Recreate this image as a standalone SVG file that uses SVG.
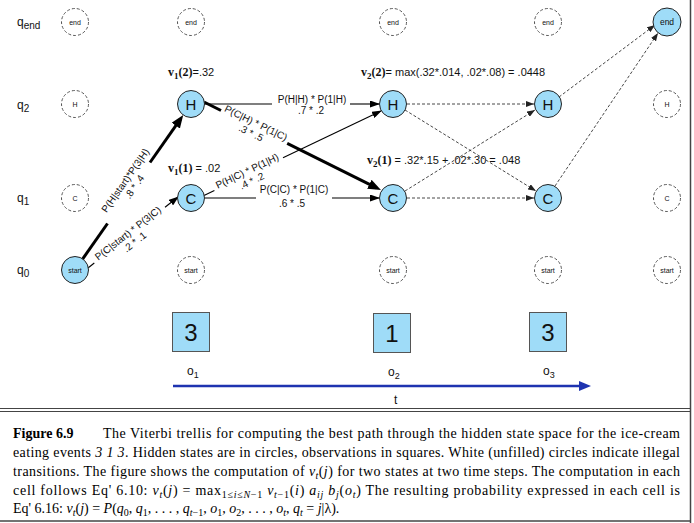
<svg xmlns="http://www.w3.org/2000/svg" width="694" height="523" viewBox="0 0 694 523">
<style>
.s{font-family:"Liberation Sans",Arial,sans-serif;fill:#111}
.lbl{font-size:10px;text-anchor:middle}
.dc{fill:#fff;stroke:#555;stroke-width:1;stroke-dasharray:3 2}
.fc{fill:#9fdcf8;stroke:#222;stroke-width:1}
.ct{text-anchor:middle;dominant-baseline:central}
.tiny{font-size:7px}
.big{font-size:15px}
.thick{stroke:#000;stroke-width:3;fill:none}
.thin{stroke:#000;stroke-width:1.1;fill:none}
.dash{stroke:#333;stroke-width:0.9;stroke-dasharray:3 2;fill:none}
.vb{font-family:"Liberation Serif","Times New Roman",serif;font-weight:bold}
.cap{font-family:"Liberation Serif","Times New Roman",serif;font-size:14px;fill:#000}
.it{font-style:italic}
.row{font-size:12px}
.obs{fill:#9fdcf8;stroke:#555;stroke-width:1}
</style>
<defs>
<marker id="aT" markerUnits="userSpaceOnUse" markerWidth="13" markerHeight="10" refX="8" refY="5" orient="auto"><path d="M0,0 L13,5 L0,10 z" fill="#000"/></marker>
<marker id="aN" markerUnits="userSpaceOnUse" markerWidth="10" markerHeight="7" refX="9" refY="3.5" orient="auto"><path d="M0,0 L10,3.5 L0,7 z" fill="#000"/></marker>
<marker id="aD" markerUnits="userSpaceOnUse" markerWidth="8" markerHeight="6" refX="8" refY="3" orient="auto"><path d="M0,0 L8,3 L0,6 z" fill="#222"/></marker>
<marker id="aB" markerUnits="userSpaceOnUse" markerWidth="12" markerHeight="10" refX="6" refY="5" orient="auto"><path d="M0,0 L12,5 L0,10 z" fill="#1e33b0"/></marker>
</defs>
<rect width="694" height="523" fill="#fff"/>

<!-- frame -->
<g id="frame" stroke="#444" fill="none">
<line x1="690.5" y1="0" x2="690.5" y2="523" stroke-width="1.5"/>
<line x1="0" y1="408.5" x2="691" y2="408.5" stroke-width="1.2"/>
<line x1="0" y1="411.5" x2="691" y2="411.5" stroke-width="1.2"/>
<line x1="0" y1="521" x2="691" y2="521" stroke-width="1.5"/>
</g>

<!-- row labels -->
<g id="rowlabels" class="s row">
<text x="17" y="26">q<tspan font-size="10" dy="3">end</tspan></text>
<text x="17" y="109">q<tspan font-size="10" dy="3">2</tspan></text>
<text x="17" y="202">q<tspan font-size="10" dy="3">1</tspan></text>
<text x="17" y="274">q<tspan font-size="10" dy="3">0</tspan></text>
</g>

<!-- connectors -->
<g id="connectors">
<!-- start -> H (thick) -->
<line class="thick" x1="82.4" y1="259.3" x2="107.5" y2="223.5"/>
<line class="thick" x1="150" y1="162.5" x2="180.4" y2="119.1" marker-end="url(#aT)"/>
<!-- start -> C -->
<line class="thin" x1="88" y1="268" x2="94.3" y2="263"/>
<line class="thin" x1="165" y1="207.3" x2="178" y2="197" marker-end="url(#aN)"/>
<!-- H -> H -->
<line class="thin" x1="204" y1="104" x2="272" y2="104"/>
<line class="thin" x1="350" y1="104" x2="379" y2="104" marker-end="url(#aN)"/>
<!-- H -> C thick -->
<line class="thick" x1="204" y1="102" x2="221" y2="110.5"/>
<line class="thick" x1="287.2" y1="143.4" x2="376.5" y2="187.8" marker-end="url(#aT)"/>
<!-- C -> H -->
<line class="thin" x1="204" y1="195.5" x2="214.4" y2="190.5"/>
<line class="thin" x1="283" y1="157.8" x2="381" y2="111" marker-end="url(#aN)"/>
<!-- C -> C -->
<line class="thin" x1="205" y1="198" x2="256" y2="198"/>
<line class="thin" x1="332" y1="198" x2="379" y2="198" marker-end="url(#aN)"/>
<!-- dashed -->
<line class="dash" x1="407" y1="104" x2="534" y2="104" marker-end="url(#aD)"/>
<line class="dash" x1="405" y1="110" x2="536" y2="191" marker-end="url(#aD)"/>
<line class="dash" x1="405" y1="191" x2="535" y2="110" marker-end="url(#aD)"/>
<line class="dash" x1="407" y1="198" x2="534" y2="198" marker-end="url(#aD)"/>
<line class="dash" x1="559" y1="97" x2="655" y2="25" marker-end="url(#aD)"/>
<line class="dash" x1="555" y1="186" x2="658" y2="33" marker-end="url(#aD)"/>
<!-- time axis -->
<line x1="173" y1="386" x2="585" y2="386" stroke="#1e33b0" stroke-width="2.6" marker-end="url(#aB)"/>
</g>

<!-- edge labels -->
<g id="edge-labels" class="s lbl">
<g transform="translate(129,183) rotate(-55)"><text x="0" y="-1">P(H|start)*P(3|H)</text><text x="0" y="10">.8 * .4</text></g>
<g transform="translate(130,236) rotate(-38)"><text x="0" y="0">P(C|start) * P(3|C)</text><text x="0" y="11">.2 * .1</text></g>
<g><text x="312" y="103">P(H|H) * P(1|H)</text><text x="311" y="114">.7 * .2</text></g>
<g transform="translate(254,127) rotate(26)"><text x="0" y="-1">P(C|H) * P(1|C)</text><text x="0" y="10">.3 * .5</text></g>
<g transform="translate(249,175) rotate(-25.5)"><text x="0" y="-1">P(H|C) * P(1|H)</text><text x="0" y="10">.4 * .2</text></g>
<g><text x="294" y="193">P(C|C) * P(1|C)</text><text x="292" y="207">.6 * .5</text></g>
</g>

<!-- value labels -->
<g id="values" class="s" font-size="11">
<text x="168" y="76"><tspan class="vb" font-size="12">v</tspan><tspan class="vb" font-size="9" dy="3">1</tspan><tspan class="vb" font-size="12" dy="-3">(2)</tspan>=.32</text>
<text x="168" y="172"><tspan class="vb" font-size="12">v</tspan><tspan class="vb" font-size="9" dy="3">1</tspan><tspan class="vb" font-size="12" dy="-3">(1)</tspan> = .02</text>
<text x="361" y="76"><tspan class="vb" font-size="12">v</tspan><tspan class="vb" font-size="9" dy="3">2</tspan><tspan class="vb" font-size="12" dy="-3">(2)</tspan>= max(.32*.014, .02*.08) = .0448</text>
<text x="367" y="164"><tspan class="vb" font-size="12">v</tspan><tspan class="vb" font-size="9" dy="3">2</tspan><tspan class="vb" font-size="12" dy="-3">(1)</tspan> = .32*.15 + .02*.30 = .048</text>
</g>

<!-- nodes: end row -->
<g id="end1"><circle class="dc" cx="75" cy="22" r="13.5"/><text class="s ct tiny" x="75" y="22">end</text></g>
<g id="end2"><circle class="dc" cx="191" cy="22" r="13.5"/><text class="s ct tiny" x="191" y="22">end</text></g>
<g id="end3"><circle class="dc" cx="393" cy="22" r="13.5"/><text class="s ct tiny" x="393" y="22">end</text></g>
<g id="end4"><circle class="dc" cx="548" cy="22" r="13.5"/><text class="s ct tiny" x="548" y="22">end</text></g>
<g id="end5"><circle class="fc" cx="667" cy="22" r="14"/><text class="s ct" font-size="8.5" x="667" y="22">end</text></g>
<!-- H row -->
<g id="H0"><circle class="dc" cx="75" cy="104" r="13.5"/><text class="s ct tiny" x="75" y="104">H</text></g>
<g id="H1"><circle class="fc" cx="191" cy="104" r="13.5"/><text class="s ct big" x="191" y="104">H</text></g>
<g id="H2"><circle class="fc" cx="393" cy="104" r="13.5"/><text class="s ct big" x="393" y="104">H</text></g>
<g id="H3"><circle class="fc" cx="548" cy="104" r="13.5"/><text class="s ct big" x="548" y="104">H</text></g>
<g id="H4"><circle class="dc" cx="667" cy="104" r="13.5"/><text class="s ct tiny" x="667" y="104">H</text></g>
<!-- C row -->
<g id="C0"><circle class="dc" cx="75" cy="198" r="13.5"/><text class="s ct tiny" x="75" y="198">C</text></g>
<g id="C1"><circle class="fc" cx="191" cy="198" r="13.5"/><text class="s ct big" x="191" y="198">C</text></g>
<g id="C2"><circle class="fc" cx="393" cy="198" r="13.5"/><text class="s ct big" x="393" y="198">C</text></g>
<g id="C3"><circle class="fc" cx="548" cy="198" r="13.5"/><text class="s ct big" x="548" y="198">C</text></g>
<g id="C4"><circle class="dc" cx="667" cy="198" r="13.5"/><text class="s ct tiny" x="667" y="198">C</text></g>
<!-- start row -->
<g id="start0"><circle class="fc" cx="75" cy="270" r="13.5"/><text class="s ct tiny" x="75" y="270">start</text></g>
<g id="start1"><circle class="dc" cx="191" cy="270" r="13.5"/><text class="s ct tiny" x="191" y="270">start</text></g>
<g id="start2"><circle class="dc" cx="393" cy="270" r="13.5"/><text class="s ct tiny" x="393" y="270">start</text></g>
<g id="start3"><circle class="dc" cx="548" cy="270" r="13.5"/><text class="s ct tiny" x="548" y="270">start</text></g>
<g id="start4"><circle class="dc" cx="667" cy="270" r="13.5"/><text class="s ct tiny" x="667" y="270">start</text></g>

<!-- observations -->
<g id="obs1"><rect class="obs" x="172.5" y="312.5" width="37" height="39"/><text class="s ct" font-size="24" x="191" y="332">3</text><text class="s" font-size="12" x="187" y="375">o<tspan font-size="9" dy="3">1</tspan></text></g>
<g id="obs2"><rect class="obs" x="373.5" y="313.5" width="37" height="39"/><text class="s ct" font-size="24" x="392" y="333">1</text><text class="s" font-size="12" x="388" y="376">o<tspan font-size="9" dy="3">2</tspan></text></g>
<g id="obs3"><rect class="obs" x="529.5" y="312.5" width="37" height="39"/><text class="s ct" font-size="24" x="548" y="332">3</text><text class="s" font-size="12" x="543" y="375">o<tspan font-size="9" dy="3">3</tspan></text></g>
<text class="s" font-size="12" x="394" y="404">t</text>

<!-- caption -->
<g id="caption" class="cap">
<text x="13" y="438" font-weight="bold">Figure 6.9</text>
<text x="103" y="438" textLength="577" lengthAdjust="spacing">The Viterbi trellis for computing the best path through the hidden state space for the ice-cream</text>
<text x="13" y="457" textLength="667" lengthAdjust="spacing">eating events <tspan class="it">3 1 3</tspan>. Hidden states are in circles, observations in squares. White (unfilled) circles indicate illegal</text>
<text x="13" y="476" textLength="667" lengthAdjust="spacing">transitions. The figure shows the computation of <tspan class="it">v</tspan><tspan class="it" font-size="10" dy="3">t</tspan><tspan dy="-3">(</tspan><tspan class="it">j</tspan>) for two states at two time steps. The computation in each</text>
<text x="13" y="495" textLength="667" lengthAdjust="spacing">cell follows Eq' 6.10: <tspan class="it">v</tspan><tspan class="it" font-size="10" dy="3">t</tspan><tspan dy="-3">(</tspan><tspan class="it">j</tspan>) = max<tspan font-size="10" dy="3">1≤<tspan class="it">i</tspan>≤<tspan class="it">N</tspan>−1</tspan> <tspan class="it" dy="-3">v</tspan><tspan class="it" font-size="10" dy="3">t</tspan><tspan font-size="10">−1</tspan><tspan dy="-3">(</tspan><tspan class="it">i</tspan>) <tspan class="it">a</tspan><tspan class="it" font-size="10" dy="3">ij</tspan> <tspan class="it" dy="-3">b</tspan><tspan class="it" font-size="10" dy="3">j</tspan><tspan dy="-3">(</tspan><tspan class="it">o</tspan><tspan class="it" font-size="10" dy="3">t</tspan><tspan dy="-3">)</tspan> The resulting probability expressed in each cell is</text>
<text x="13" y="513">Eq' 6.16: <tspan class="it">v</tspan><tspan class="it" font-size="10" dy="3">t</tspan><tspan dy="-3">(</tspan><tspan class="it">j</tspan>) = <tspan class="it">P</tspan>(<tspan class="it">q</tspan><tspan font-size="10" dy="3">0</tspan><tspan dy="-3">, </tspan><tspan class="it">q</tspan><tspan font-size="10" dy="3">1</tspan><tspan dy="-3">, . . . , </tspan><tspan class="it">q</tspan><tspan class="it" font-size="10" dy="3">t</tspan><tspan font-size="10">−1</tspan><tspan dy="-3">, </tspan><tspan class="it">o</tspan><tspan font-size="10" dy="3">1</tspan><tspan dy="-3">, </tspan><tspan class="it">o</tspan><tspan font-size="10" dy="3">2</tspan><tspan dy="-3">, . . . , </tspan><tspan class="it">o</tspan><tspan class="it" font-size="10" dy="3">t</tspan><tspan dy="-3">, </tspan><tspan class="it">q</tspan><tspan class="it" font-size="10" dy="3">t</tspan><tspan dy="-3"> = </tspan><tspan class="it">j</tspan>|λ).</text>
</g>
</svg>
